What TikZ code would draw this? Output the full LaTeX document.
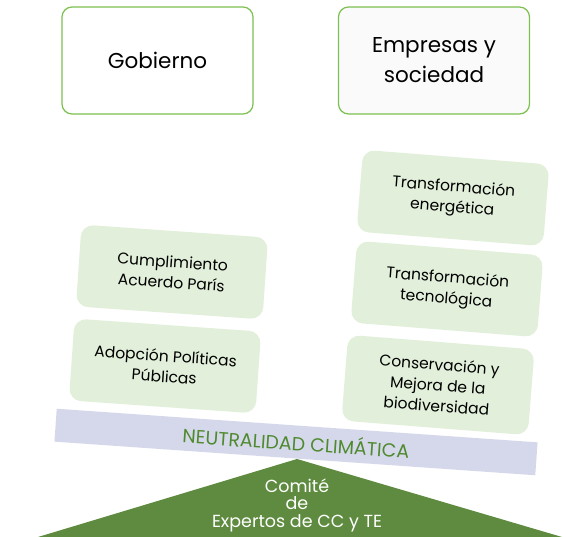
\documentclass[tikz,border=0pt]{standalone}
\usepackage{fontspec}
\setmainfont{Poppins}
\usepackage{tikz}
\usetikzlibrary{positioning}
\definecolor{boxgreen}{HTML}{E2EFDA}
\definecolor{linegreen}{HTML}{7CC04F}
\definecolor{barlilac}{HTML}{D5D8EA}
\definecolor{darkgreen}{HTML}{5E8B3F}
\definecolor{textgreen}{HTML}{4F8A2F}

\begin{document}
\begin{tikzpicture}[y=-1pt,x=1pt,
	actor/.style={draw=linegreen, line width=1.2pt, rounded corners=10pt, minimum width=191pt, minimum height=107pt, align=center, font=\fontsize{21.5}{30}\selectfont},
	goal/.style={fill=boxgreen, rounded corners=12pt, minimum width=187pt, minimum height=82pt, align=center, rotate=-4, font=\fontsize{15.5}{20.5}\selectfont}]
	\useasboundingbox (0,0) rectangle (566,537);

	% actores
	\node[actor, fill=white] (gob) at (157.5,60.5) {Gobierno};
	\node[actor, fill=black!2] (emp) at (434,60.5) {Empresas y\\sociedad};

	% ejes
	\node[goal] (cump) at (172,272) {Cumplimiento\\Acuerdo París};
	\node[goal] (adop) at (165,366) {Adopción Políticas\\Públicas};
	\node[goal, rotate=-0.5] (ener) at (453,198) {Transformación\\energética};
	\node[goal, rotate=-0.5] (tecn) at (447,289) {Transformación\\tecnológica};
	\node[goal, rotate=-0.5, minimum height=86pt] (cons) at (438,385) {Conservación y\\Mejora de la\\biodiversidad};

	% base
	\coordinate (apex) at (297,459);
	\coordinate (left) at (38,537);
	\coordinate (right) at (562,537);
	\fill[darkgreen] (left) -- (apex) -- (right) -- cycle;
	\node[text=white, align=center, font=\fontsize{17.5}{17.5}\selectfont] (comite) at (297,505) {Comité\\de\\Expertos de CC y TE};

	\node[fill=barlilac, minimum width=482pt, minimum height=33pt, rotate=-4, text=textgreen, font=\fontsize{19}{20}\selectfont] (neutro) at (296,442) {NEUTRALIDAD CLIMÁTICA};
\end{tikzpicture}
\end{document}
